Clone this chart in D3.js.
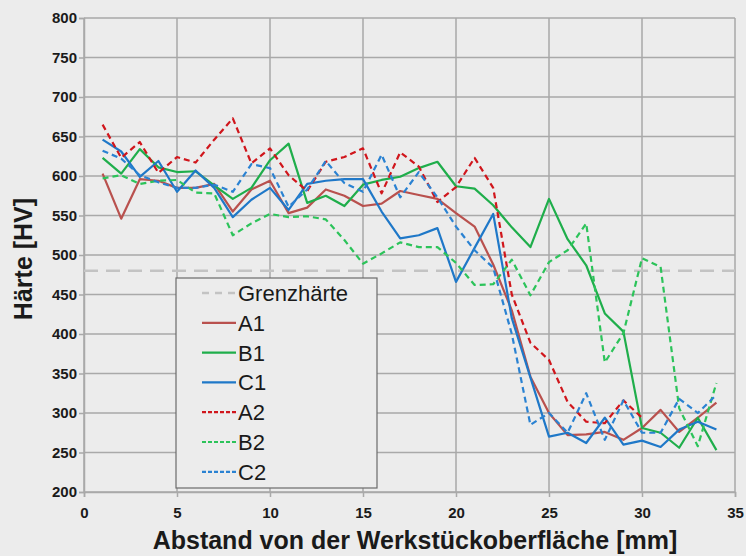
<!DOCTYPE html>
<html>
<head>
<meta charset="utf-8">
<script src="https://cdn.jsdelivr.net/npm/d3@7"></script>
<style>
  html, body { margin: 0; padding: 0; background: #ececec; }
  svg { display: block; font-family: "Liberation Sans", Arial, sans-serif; }
</style>
</head>
<body>
<div id="chart"></div>
<script>
// Härteverlauf über den Abstand von der Werkstückoberfläche

const distA = d3.range(1, 35);          // 1..34 mm
const distA2 = d3.range(1, 31);         // A2 endet bei 30 mm
const grenzhaerte = 480;

const hardA1 = [603,546,596,594,585,585,590,555,583,594,553,560,583,575,562,565,581,576,571,553,536,488,430,346,300,272,273,276,266,281,304,276,294,313];
const hardB1 = [623,603,634,611,605,606,588,571,585,620,641,566,575,562,589,595,599,610,618,587,584,563,535,510,571,520,487,426,403,281,275,256,294,253];
const hardC1 = [646,631,599,619,580,607,585,548,570,585,557,590,594,596,596,555,521,525,534,466,509,552,420,345,270,275,262,294,260,265,257,279,289,279];
const hardA2 = [665,623,643,604,624,617,646,673,616,635,601,581,618,624,635,578,630,612,567,586,623,585,450,389,367,314,289,287,316,294];
const hardB2 = [597,601,590,594,595,579,578,525,540,552,548,549,545,519,489,502,516,510,510,490,462,463,494,449,491,506,540,364,401,496,485,306,258,338];
const hardC2 = [632,622,601,592,585,585,589,580,615,610,561,583,619,591,580,627,573,605,573,536,506,484,400,285,300,275,325,266,316,275,275,318,300,323];

const xTicks = [0, 5, 10, 15, 20, 25, 30, 35];
const yTicks = [200, 250, 300, 350, 400, 450, 500, 550, 600, 650, 700, 750, 800];

const series = [
  { name: 'A1', x: distA, y: hardA1, color: '#b9514e', dash: null },
  { name: 'B1', x: distA, y: hardB1, color: '#1fae4b', dash: null },
  { name: 'C1', x: distA, y: hardC1, color: '#1f78c8', dash: null },
  { name: 'A2', x: distA2, y: hardA2, color: '#d0161c', dash: '6,4' },
  { name: 'B2', x: distA, y: hardB2, color: '#2cc35a', dash: '6,4' },
  { name: 'C2', x: distA, y: hardC2, color: '#2a82d2', dash: '6,4' }
];

const W = 746, H = 556;
const m = { left: 84, right: 11, top: 18, bottom: 64 };

const svg = d3.select('#chart').append('svg')
  .attr('width', W).attr('height', H);

svg.append('rect').attr('width', W).attr('height', H).attr('fill', '#ececec');

const x = d3.scaleLinear().domain([0, 35]).range([m.left, W - m.right]);
const y = d3.scaleLinear().domain([200, 800]).range([H - m.bottom, m.top]);

// grid
const grid = svg.append('g');
grid.selectAll('.hg').data(yTicks).enter().append('line')
  .attr('x1', x(0)).attr('x2', x(35))
  .attr('y1', d => y(d)).attr('y2', d => y(d))
  .attr('stroke', '#a9a9a9').attr('stroke-width', 1.5);
grid.selectAll('.vg').data(xTicks).enter().append('line')
  .attr('x1', d => x(d)).attr('x2', d => x(d))
  .attr('y1', y(800)).attr('y2', y(200))
  .attr('stroke', '#a9a9a9').attr('stroke-width', 1.5);

// axes
const xAxis = svg.append('g')
  .attr('transform', `translate(0,${y(200)})`)
  .call(d3.axisBottom(x).tickValues(xTicks).tickSize(5).tickPadding(10));
const yAxis = svg.append('g')
  .attr('transform', `translate(${x(0)},0)`)
  .call(d3.axisLeft(y).tickValues(yTicks).tickSize(5).tickPadding(2));

[xAxis, yAxis].forEach(a => {
  a.select('.domain').attr('stroke', '#a9a9a9').attr('stroke-width', 1.5);
  a.selectAll('.tick line').attr('stroke', '#a9a9a9').attr('stroke-width', 1.5);
  a.selectAll('.tick text')
    .attr('fill', '#1a1a1a')
    .style('font-size', '15px')
    .style('font-weight', 'bold');
});

// Grenzhärte
svg.append('line')
  .attr('x1', x(0)).attr('x2', x(35))
  .attr('y1', y(grenzhaerte)).attr('y2', y(grenzhaerte))
  .attr('stroke', '#c3c3c3').attr('stroke-width', 2.5)
  .attr('stroke-dasharray', '14,8');

// series
const line = d3.line().x(d => x(d[0])).y(d => y(d[1]));
series.forEach(s => {
  svg.append('path')
    .datum(s.x.map((d, i) => [d, s.y[i]]))
    .attr('d', line)
    .attr('fill', 'none')
    .attr('stroke', s.color)
    .attr('stroke-width', 2.2)
    .attr('stroke-linejoin', 'round')
    .attr('stroke-dasharray', s.dash);
});

// axis titles
svg.append('text')
  .attr('x', 415).attr('y', 549)
  .attr('text-anchor', 'middle')
  .attr('fill', '#1a1a1a')
  .style('font-size', '25px').style('font-weight', 'bold')
  .text('Abstand von der Werkstückoberfläche [mm]');

svg.append('text')
  .attr('transform', `translate(32,259) rotate(-90)`)
  .attr('text-anchor', 'middle')
  .attr('fill', '#1a1a1a')
  .style('font-size', '25px').style('font-weight', 'bold')
  .text('Härte [HV]');

// legend
const legendItems = [{ name: 'Grenzhärte', color: '#c3c3c3', dash: '7,6', w: 2.5 }]
  .concat(series.map(s => ({ name: s.name, color: s.color, dash: s.dash ? '4,2' : null, w: 2.2 })));

const lg = svg.append('g').attr('transform', 'translate(176,278)');
lg.append('rect')
  .attr('width', 201).attr('height', 210)
  .attr('fill', '#ececec')
  .attr('stroke', '#6b6b6b').attr('stroke-width', 1.2);

const row = lg.selectAll('.row').data(legendItems).enter().append('g')
  .attr('transform', (d, i) => `translate(0,${15 + i * 29.8})`);
row.append('line')
  .attr('x1', 26).attr('x2', 60)
  .attr('stroke', d => d.color)
  .attr('stroke-width', d => d.w)
  .attr('stroke-dasharray', d => d.dash);
row.append('text')
  .attr('x', 62).attr('y', 8)
  .attr('fill', '#1a1a1a')
  .style('font-size', '22px')
  .text(d => d.name);
</script>
</body>
</html>
